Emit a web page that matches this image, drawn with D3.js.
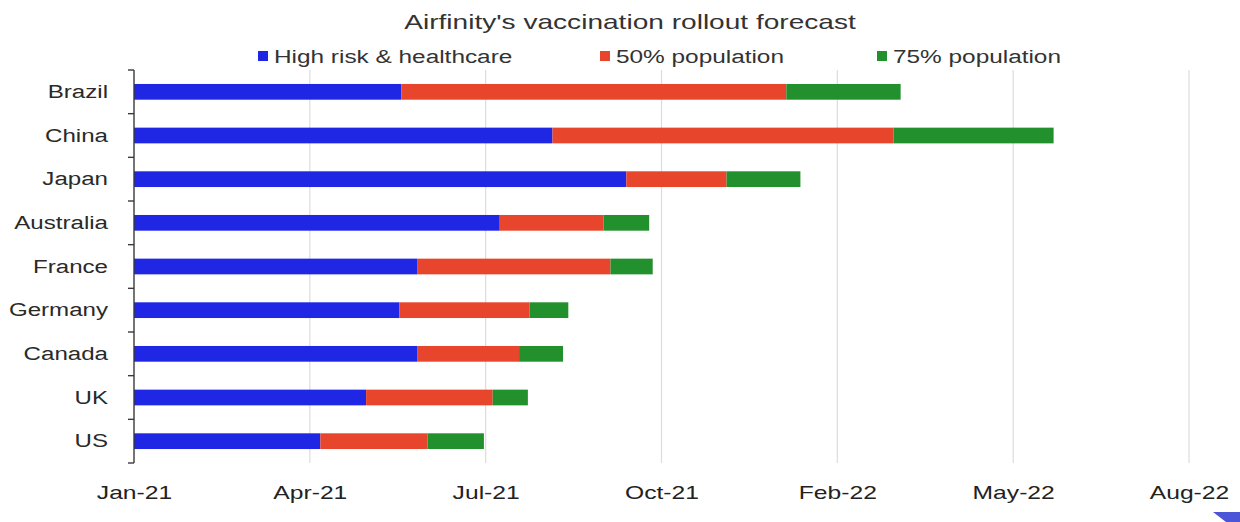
<!DOCTYPE html>
<html>
<head>
<meta charset="utf-8">
<script src="https://cdn.jsdelivr.net/npm/d3@7"></script>
<style>
  html, body { margin: 0; padding: 0; background: #fff; }
  svg { display: block; font-family: "Liberation Sans", Arial, Helvetica, sans-serif; }
</style>
</head>
<body>
<svg id="chart" width="1240" height="522"></svg>
<script>
// Countries, top to bottom
const countries = ["Brazil", "China", "Japan", "Australia", "France", "Germany", "Canada", "UK", "US"];

// Forecast date each milestone is reached
const highRiskDone = ["2021-06-02", "2021-08-27", "2021-10-08", "2021-07-28", "2021-06-11", "2021-06-01", "2021-06-11", "2021-05-13", "2021-04-17"];
const pop50Done    = ["2022-01-07", "2022-03-09", "2021-12-04", "2021-09-25", "2021-09-29", "2021-08-14", "2021-08-08", "2021-07-24", "2021-06-17"];
const pop75Done    = ["2022-03-13", "2022-06-08", "2022-01-15", "2021-10-21", "2021-10-23", "2021-09-05", "2021-09-02", "2021-08-13", "2021-07-19"];

// Axis ticks
const tickDates  = ["2021-01-01", "2021-04-11", "2021-07-20", "2021-10-28", "2022-02-05", "2022-05-16", "2022-08-24"];
const tickLabels = ["Jan-21", "Apr-21", "Jul-21", "Oct-21", "Feb-22", "May-22", "Aug-22"];

const seriesNames  = ["High risk & healthcare", "50% population", "75% population"];
const seriesColors = ["#1f27e4", "#e8452d", "#22902d"];

// Text is set in a widened face
const SX = 1.37;

const parse = d3.utcParse("%Y-%m-%d");
const start = parse(tickDates[0]);

const svg = d3.select("#chart");
const margin = { left: 134, right: 51, top: 70, bottom: 59 };
const W = 1240, H = 522;

const x = d3.scaleUtc()
  .domain([start, parse(tickDates[tickDates.length - 1])])
  .range([margin.left, W - margin.right]);

const y = d3.scaleBand()
  .domain(countries)
  .range([margin.top, H - margin.bottom])
  .paddingInner(0.64)
  .paddingOuter(0.32);

// Vertical gridlines
svg.append("g")
  .selectAll("line")
  .data(tickDates.slice(1))
  .join("line")
  .attr("x1", d => x(parse(d)))
  .attr("x2", d => x(parse(d)))
  .attr("y1", margin.top)
  .attr("y2", H - margin.bottom)
  .attr("stroke", "#dcdcdc")
  .attr("stroke-width", 1.2);

// Stacked segments per country
const stacks = countries.map((c, i) => {
  const ends = [highRiskDone[i], pop50Done[i], pop75Done[i]].map(parse);
  return ends.map((e, k) => ({ country: c, k, from: k === 0 ? start : ends[k - 1], to: e }));
});

svg.append("g")
  .selectAll("g")
  .data(stacks)
  .join("g")
  .selectAll("rect")
  .data(d => d)
  .join("rect")
  .attr("x", d => x(d.from))
  .attr("width", d => x(d.to) - x(d.from))
  .attr("y", d => y(d.country))
  .attr("height", y.bandwidth())
  .attr("fill", d => seriesColors[d.k]);

// Category axis with ticks between bands
const yAxisG = svg.append("g").attr("transform", `translate(${margin.left},0)`);
yAxisG.append("line")
  .attr("x1", 0).attr("x2", 0)
  .attr("y1", margin.top).attr("y2", H - margin.bottom)
  .attr("stroke", "#3a3a3a").attr("stroke-width", 1.4);
const step = (H - margin.bottom - margin.top) / countries.length;
yAxisG.selectAll("line.tk")
  .data(d3.range(countries.length + 1))
  .join("line")
  .attr("class", "tk")
  .attr("x1", -6).attr("x2", 0)
  .attr("y1", i => margin.top + i * step)
  .attr("y2", i => margin.top + i * step)
  .attr("stroke", "#3a3a3a").attr("stroke-width", 1.4);
yAxisG.selectAll("text")
  .data(countries)
  .join("text")
  .attr("transform", d => `translate(-26,${y(d) + y.bandwidth() / 2}) scale(${SX},1)`)
  .attr("dy", "0.35em")
  .attr("text-anchor", "end")
  .attr("font-size", 17.6)
  .attr("fill", "#2a2a2a")
  .text(d => d);

// Time axis labels
const xAxis = d3.axisBottom(x)
  .tickValues(tickDates.map(parse))
  .tickFormat((d, i) => tickLabels[i])
  .tickSize(0)
  .tickPadding(0);
const xg = svg.append("g")
  .attr("transform", `translate(0,${H - margin.bottom + 23})`)
  .call(xAxis);
xg.select(".domain").remove();
xg.selectAll("text")
  .attr("transform", `scale(${SX},1)`)
  .attr("font-size", 18)
  .attr("font-family", "\"Liberation Sans\", Arial, sans-serif")
  .attr("fill", "#222");

// Title
svg.append("text")
  .attr("transform", `translate(630,29) scale(${SX},1)`)
  .attr("text-anchor", "middle")
  .attr("font-size", 20.5)
  .attr("fill", "#333")
  .text("Airfinity's vaccination rollout forecast");

// Legend
const legendX = [258, 600, 877];
const legend = svg.append("g")
  .selectAll("g")
  .data(seriesNames)
  .join("g")
  .attr("transform", (d, i) => `translate(${legendX[i]},51)`);
legend.append("rect")
  .attr("width", 10).attr("height", 10)
  .attr("fill", (d, i) => seriesColors[i]);
legend.append("text")
  .attr("transform", `translate(16,6) scale(${SX},1)`)
  .attr("dy", "0.36em")
  .attr("font-size", 17.8)
  .attr("fill", "#333")
  .text(d => d);

// Corner logo fragment
svg.append("path")
  .attr("d", "M1213,512 L1240,512 L1240,522 L1226,522 Z")
  .attr("fill", "#4a55d8");
</script>
</body>
</html>
